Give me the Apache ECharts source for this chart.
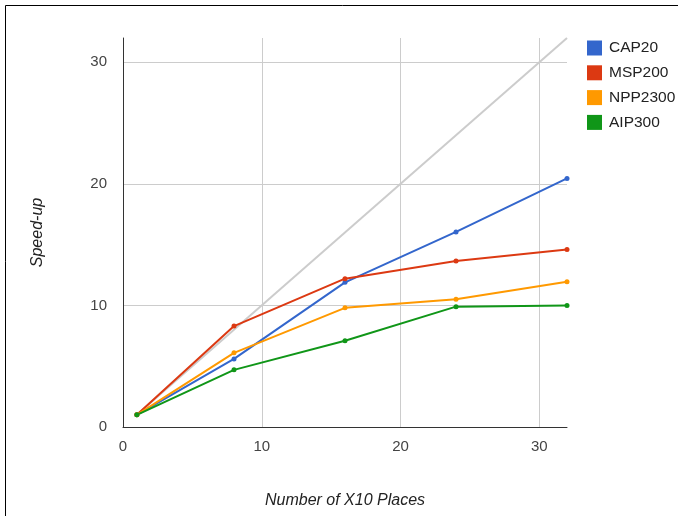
<!DOCTYPE html>
<html>
<head>
<meta charset="utf-8">
<script src="https://cdn.jsdelivr.net/npm/echarts@6/dist/echarts.min.js"></script>
<style>html,body{margin:0;padding:0;background:#fff}#c{width:678px;height:516px}</style>
</head>
<body>
<div id="c"></div>
<script>
const places = [1, 8, 16, 24, 32];
const idealX = [1, 32];
const idealY = [1, 32];
const cap20 = [1, 5.6, 11.9, 16.05, 20.45];
const msp200 = [1, 8.3, 12.2, 13.65, 14.6];
const npp2300 = [1, 6.1, 9.8, 10.5, 11.95];
const aip300 = [1, 4.7, 7.1, 9.9, 10.0];
const xTicks = [0, 10, 20, 30];
const yTicks = [0, 10, 20, 30];

const pts = (xs, ys) => xs.map((x, i) => [x, ys[i]]);
const font = 'Liberation Sans, Arial, sans-serif';

function mk(name, color, ys) {
  return {
    name, type: 'line', data: pts(places, ys), z: 3,
    symbol: 'circle', symbolSize: 5, showSymbol: true,
    lineStyle: { color, width: 2 }, itemStyle: { color },
    emphasis: { disabled: true }
  };
}

const chart = echarts.init(document.getElementById('c'), null, { renderer: 'canvas' });
chart.setOption({
  animation: false,
  textStyle: { fontFamily: font },
  graphic: [{
    type: 'rect', shape: { x: 5.5, y: 5.5, width: 800, height: 800 },
    style: { fill: 'none', stroke: '#000', lineWidth: 1 }, silent: true
  }],
  grid: { left: 123, top: 38, right: 111, bottom: 89, containLabel: false },
  legend: {
    orient: 'vertical', left: 582, top: 35, icon: 'rect',
    itemWidth: 15, itemHeight: 15, itemGap: 8.8,
    textStyle: { color: '#222', fontSize: 15.5, fontFamily: font, padding: [0, 0, 0, 2] },
    data: ['CAP20', 'MSP200', 'NPP2300', 'AIP300']
  },
  xAxis: {
    type: 'value', min: 0, max: 32, interval: 10,
    name: 'Number of X10 Places', nameLocation: 'middle', nameGap: 66,
    nameTextStyle: { fontStyle: 'italic', color: '#222', fontSize: 16, fontFamily: font },
    axisLine: { show: true, lineStyle: { color: '#333', width: 1 } },
    axisTick: { show: false },
    axisLabel: { color: '#444', fontSize: 15, margin: 12, showMaxLabel: false,
      formatter: v => (xTicks.includes(v) ? String(v) : '') },
    splitLine: { show: true, showMinLine: false, showMaxLine: false, lineStyle: { color: '#ccc', width: 1 } }
  },
  yAxis: {
    type: 'value', min: 0, max: 32, interval: 10,
    name: 'Speed-up', nameLocation: 'middle', nameGap: 77, nameRotate: 90,
    nameTextStyle: { fontStyle: 'italic', color: '#222', fontSize: 16, fontFamily: font },
    axisLine: { show: true, lineStyle: { color: '#333', width: 1 } },
    axisTick: { show: false },
    axisLabel: { color: '#444', fontSize: 15, margin: 16, showMaxLabel: false,
      formatter: v => (yTicks.includes(v) ? String(v) : '') },
    splitLine: { show: true, showMinLine: false, showMaxLine: false, lineStyle: { color: '#ccc', width: 1 } }
  },
  series: [
    {
      name: 'ideal', type: 'line', data: pts(idealX, idealY), z: 2,
      symbol: 'none', lineStyle: { color: '#cccccc', width: 2 }, silent: true
    },
    mk('CAP20', '#3366cc', cap20),
    mk('MSP200', '#dc3912', msp200),
    mk('NPP2300', '#ff9900', npp2300),
    mk('AIP300', '#109618', aip300)
  ]
});
</script>
</body>
</html>
